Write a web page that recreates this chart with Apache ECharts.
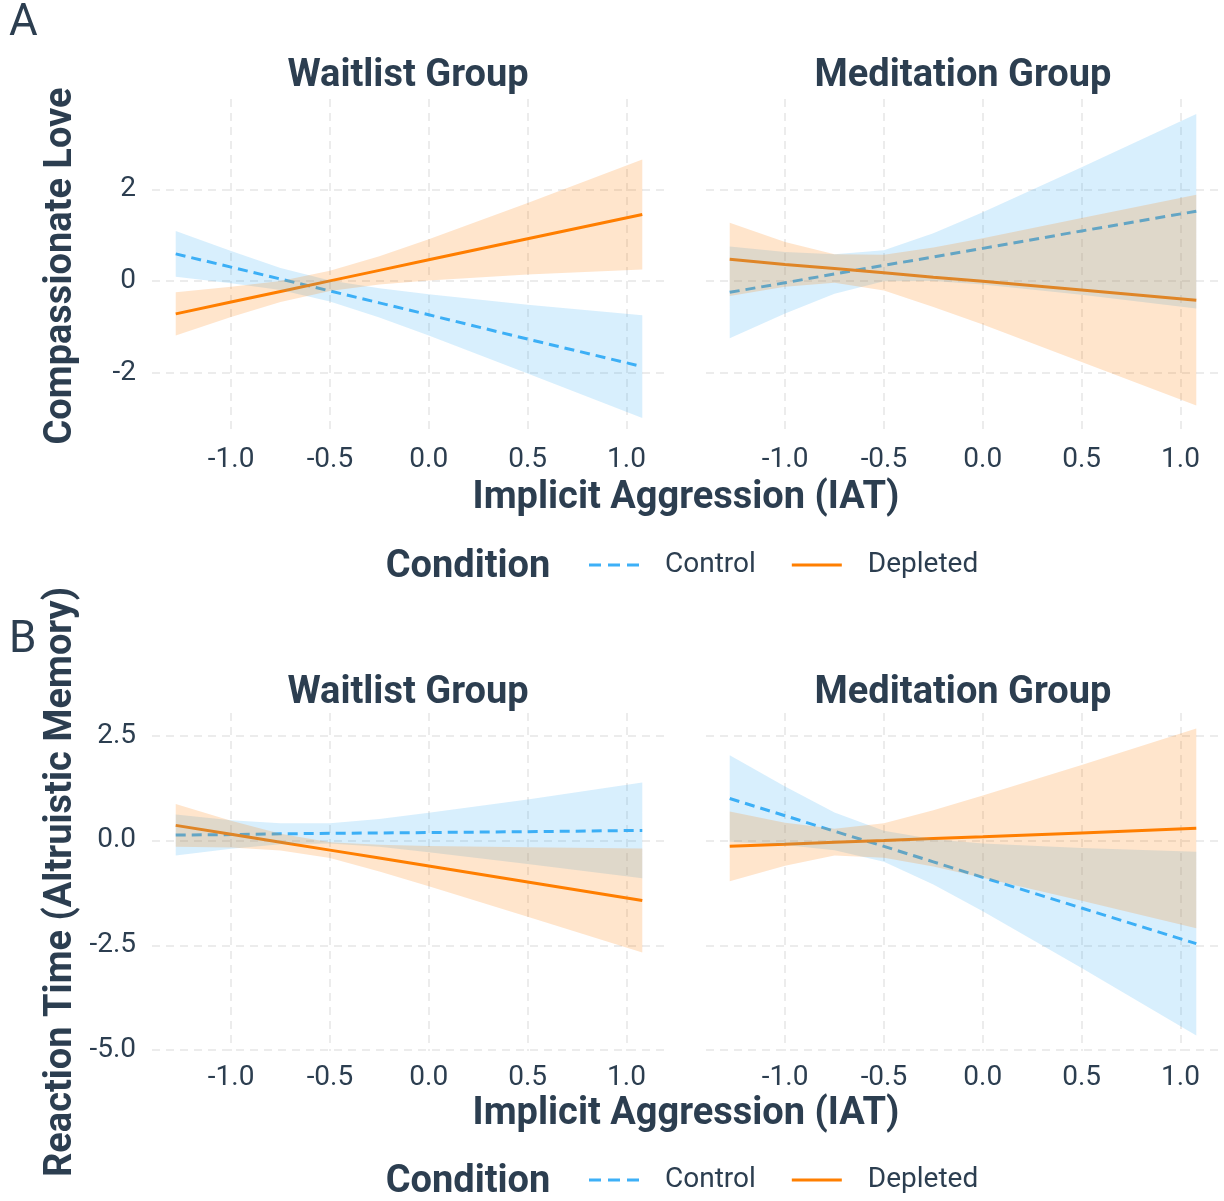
<!DOCTYPE html>
<html>
<head>
<meta charset="utf-8">
<script src="https://cdn.jsdelivr.net/npm/echarts@6/dist/echarts.min.js"></script>
<style>
  html, body { margin: 0; padding: 0; background: #fff; }
  #chart { width: 1224px; height: 1201px; }
</style>
</head>
<body>
<div id="chart"></div>
<script>
const xs = [-1.28, -1.0, -0.75, -0.5, -0.25, 0, 0.5, 1.08];
const xTicks = [-1.0, -0.5, 0.0, 0.5, 1.0];
const yTicksA = [-2, 0, 2];
const yTicksB = [-5.0, -2.5, 0.0, 2.5];

// A: Compassionate Love, Waitlist
const aWaitCtrlFit = [0.59, 0.30, 0.04, -0.22, -0.48, -0.74, -1.27, -1.87];
const aWaitCtrlHi  = [1.09, 0.65, 0.28, 0.01, -0.16, -0.29, -0.52, -0.75];
const aWaitCtrlLo  = [0.09, -0.05, -0.20, -0.45, -0.80, -1.19, -2.02, -2.99];
const aWaitDepFit  = [-0.72, -0.46, -0.23, 0.00, 0.23, 0.46, 0.92, 1.45];
const aWaitDepHi   = [-0.25, -0.13, 0.00, 0.22, 0.54, 0.91, 1.70, 2.65];
const aWaitDepLo   = [-1.19, -0.79, -0.46, -0.22, -0.08, 0.01, 0.14, 0.25];
// A: Meditation
const aMedCtrlFit = [-0.25, -0.04, 0.15, 0.34, 0.52, 0.71, 1.09, 1.52];
const aMedCtrlHi  = [0.75, 0.63, 0.58, 0.67, 1.04, 1.50, 2.48, 3.64];
const aMedCtrlLo  = [-1.25, -0.71, -0.28, -0.01, 0.00, -0.08, -0.30, -0.60];
const aMedDepFit  = [0.47, 0.36, 0.27, 0.18, 0.08, -0.01, -0.20, -0.42];
const aMedDepHi   = [1.27, 0.85, 0.58, 0.57, 0.73, 0.93, 1.37, 1.88];
const aMedDepLo   = [-0.33, -0.13, -0.04, -0.21, -0.57, -0.95, -1.77, -2.72];

// B: Reaction Time, Waitlist
const bWaitCtrlFit = [0.13, 0.14, 0.16, 0.17, 0.18, 0.19, 0.21, 0.24];
const bWaitCtrlHi  = [0.62, 0.48, 0.41, 0.41, 0.51, 0.66, 0.98, 1.38];
const bWaitCtrlLo  = [-0.36, -0.20, -0.09, -0.07, -0.15, -0.28, -0.56, -0.90];
const bWaitDepFit  = [0.36, 0.15, -0.04, -0.23, -0.42, -0.61, -0.99, -1.43];
const bWaitDepHi   = [0.87, 0.47, 0.16, -0.04, -0.10, -0.13, -0.16, -0.19];
const bWaitDepLo   = [-0.15, -0.17, -0.24, -0.42, -0.74, -1.09, -1.82, -2.67];
// B: Meditation
const bMedCtrlFit = [1.00, 0.59, 0.22, -0.14, -0.51, -0.88, -1.61, -2.46];
const bMedCtrlHi  = [2.03, 1.29, 0.67, 0.23, 0.03, -0.07, -0.18, -0.27];
const bMedCtrlLo  = [-0.03, -0.11, -0.23, -0.51, -1.05, -1.69, -3.04, -4.65];
const bMedDepFit  = [-0.14, -0.09, -0.04, 0.00, 0.05, 0.09, 0.18, 0.29];
const bMedDepHi   = [0.69, 0.42, 0.28, 0.41, 0.72, 1.07, 1.80, 2.67];
const bMedDepLo   = [-0.97, -0.60, -0.36, -0.41, -0.62, -0.89, -1.44, -2.09];

const BLUE = '#3db0f7';
const ORANGE = '#ff7f00';
const BLUE_FILL = 'rgba(61,176,247,0.2)';
const ORANGE_FILL = 'rgba(255,127,0,0.2)';
const INK = '#2c3e50';
const FONT = 'Roboto';

const chart = echarts.init(document.getElementById('chart'));

const gridLine = { show: true, lineStyle: { color: '#e6e6e6', width: 1.5, type: [8, 6] } };

function xAxis(g) {
  return {
    type: 'value', gridIndex: g, min: -1.4, max: 1.2,
    axisLine: { show: false }, axisTick: { show: false, customValues: xTicks },
    axisLabel: { customValues: xTicks, margin: 13, fontSize: 28, color: INK, fontFamily: FONT,
      formatter: v => v.toFixed(1) },
    splitLine: gridLine
  };
}
function yAxis(g, min, max, ticks, showLabel, digits) {
  return {
    type: 'value', gridIndex: g, min, max,
    axisLine: { show: false }, axisTick: { show: false, customValues: ticks },
    axisLabel: { show: showLabel, customValues: ticks, margin: 16, fontSize: 28, color: INK, fontFamily: FONT,
      formatter: v => v.toFixed(digits) },
    splitLine: gridLine
  };
}

function fitLine(g, name, fit, color, dashed) {
  return {
    type: 'line', name, xAxisIndex: g, yAxisIndex: g, z: 2, silent: true,
    data: xs.map((x, i) => [x, fit[i]]), symbol: 'none',
    lineStyle: { color, width: 3, type: dashed ? [10, 6] : 'solid' },
    itemStyle: { color }
  };
}
// confidence band as one polygon: upper edge left->right, lower edge back
function band(g, lo, hi, fill) {
  return {
    type: 'custom', xAxisIndex: g, yAxisIndex: g, z: 3, silent: true,
    data: xs.map((x, i) => [x, lo[i], hi[i]]),
    encode: { x: 0, y: [1, 2] },
    renderItem: (params, api) => {
      if (params.dataIndex !== 0) return null;
      const top = xs.map((x, i) => api.coord([x, hi[i]]));
      const bot = xs.map((x, i) => api.coord([x, lo[i]])).reverse();
      return { type: 'polygon', shape: { points: top.concat(bot) }, style: { fill } };
    }
  };
}

function panel(g, ctrlFit, ctrlHi, ctrlLo, depFit, depHi, depLo) {
  return [
    fitLine(g, 'Control', ctrlFit, BLUE, true),
    fitLine(g, 'Depleted', depFit, ORANGE, false),
    band(g, ctrlLo, ctrlHi, BLUE_FILL),
    band(g, depLo, depHi, ORANGE_FILL)
  ];
}

function txt(text, x, y, size, weight, align, rot) {
  return { type: 'text', x, y, rotation: rot || 0, silent: true,
    style: { text, fontSize: size, fontWeight: weight, fontFamily: FONT, fill: INK,
      align: align || 'center', verticalAlign: 'middle' } };
}

const dashIcon = 'path://M0,0H12V3H0Z M19,0H31V3H19Z M38,0H50V3H38Z';
const solidIcon = 'path://M0,0H50V3H0Z';

function legend(top) {
  return {
    data: [
      { name: 'Control', icon: dashIcon, itemStyle: { color: BLUE } },
      { name: 'Depleted', icon: solidIcon, itemStyle: { color: ORANGE } }
    ],
    left: 584, top, itemWidth: 50, itemHeight: 3, itemGap: 36,
    selectedMode: false,
    textStyle: { fontSize: 28, color: INK, fontFamily: FONT, padding: [0, 0, 0, 21] }
  };
}

const option = {
  animation: false,
  backgroundColor: '#fff',
  grid: [
    { left: 152, top: 99, width: 514, height: 334 },
    { left: 706, top: 99, width: 514, height: 334 },
    { left: 152, top: 713, width: 514, height: 338 },
    { left: 706, top: 713, width: 514, height: 338 }
  ],
  xAxis: [xAxis(0), xAxis(1), xAxis(2), xAxis(3)],
  yAxis: [
    yAxis(0, -3.32, 3.97, yTicksA, true, 0),
    yAxis(1, -3.32, 3.97, yTicksA, false, 0),
    yAxis(2, -5.02, 3.04, yTicksB, true, 1),
    yAxis(3, -5.02, 3.04, yTicksB, false, 1)
  ],
  legend: [legend(546), legend(1161)],
  graphic: [
    txt('A', 9, 24, 44, 'normal', 'left'),
    txt('B', 9, 641, 44, 'normal', 'left'),
    txt('Waitlist Group', 408, 76, 38, 'bold'),
    txt('Meditation Group', 963, 76, 38, 'bold'),
    txt('Waitlist Group', 408, 693, 38, 'bold'),
    txt('Meditation Group', 963, 693, 38, 'bold'),
    txt('Implicit Aggression (IAT)', 686, 498, 38, 'bold'),
    txt('Implicit Aggression (IAT)', 686, 1114, 38, 'bold'),
    txt('Compassionate Love', 61, 266, 38, 'bold', 'center', Math.PI / 2),
    txt('Reaction Time (Altruistic Memory)', 61, 882, 38, 'bold', 'center', Math.PI / 2),
    txt('Condition', 468, 567, 38, 'bold'),
    txt('Condition', 468, 1182, 38, 'bold')
  ],
  series: [
    ...panel(0, aWaitCtrlFit, aWaitCtrlHi, aWaitCtrlLo, aWaitDepFit, aWaitDepHi, aWaitDepLo),
    ...panel(1, aMedCtrlFit, aMedCtrlHi, aMedCtrlLo, aMedDepFit, aMedDepHi, aMedDepLo),
    ...panel(2, bWaitCtrlFit, bWaitCtrlHi, bWaitCtrlLo, bWaitDepFit, bWaitDepHi, bWaitDepLo),
    ...panel(3, bMedCtrlFit, bMedCtrlHi, bMedCtrlLo, bMedDepFit, bMedDepHi, bMedDepLo)
  ]
};

chart.setOption(option);
</script>
</body>
</html>
